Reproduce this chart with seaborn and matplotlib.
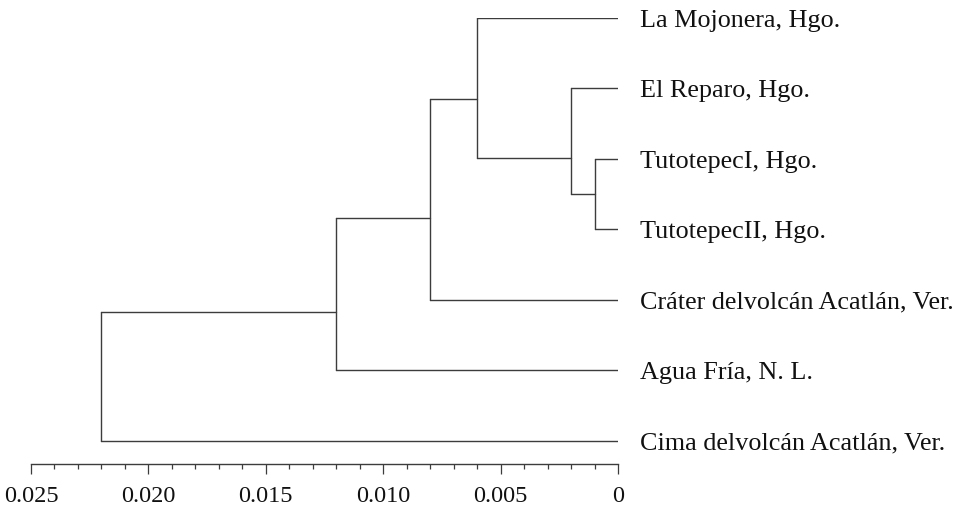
"""Dendrogram of populations, redrawn with seaborn + matplotlib."""

import matplotlib

matplotlib.use("Agg")
import matplotlib.pyplot as plt
import numpy as np
import pandas as pd
import seaborn as sns

# leaves, top to bottom
leaf_labels = [
    "La Mojonera, Hgo.",
    "El Reparo, Hgo.",
    "TutotepecI, Hgo.",
    "TutotepecII, Hgo.",
    "Cráter delvolcán Acatlán, Ver.",
    "Agua Fría, N. L.",
    "Cima delvolcán Acatlán, Ver.",
]

# merges: node ids 0..6 are leaves, 7.. are clusters in merge order
merge_left = [2, 1, 0, 9, 10, 11]
merge_right = [3, 7, 8, 4, 5, 6]
merge_height = [0.001, 0.002, 0.006, 0.008, 0.012, 0.022]

tick_values = [0.025, 0.020, 0.015, 0.010, 0.005, 0.0]
tick_labels = ["0.025", "0.020", "0.015", "0.010", "0.005", "0"]

# where the link sits between the two children (0 = upper child, 1 = lower child)
LINK_BIAS = [0.5, 0.66, 0.58, 0.59, 0.62, 0.5]

LINE_COLOR = "#3c3c3c"
TEXT_COLOR = "#111111"
SERIF = ["Liberation Serif", "DejaVu Serif"]
LEAF_SIZE = 18.8


def build_segments():
    n = len(leaf_labels)
    ypos = {i: float(i) for i in range(n)}
    height = {i: 0.0 for i in range(n)}
    rows = []
    seg = 0
    for k, (a, b, h) in enumerate(zip(merge_left, merge_right, merge_height)):
        node = n + k
        ypos[node] = ypos[a] + LINK_BIAS[k] * (ypos[b] - ypos[a])
        height[node] = h
        # vertical bar
        rows += [(seg, h, ypos[a]), (seg, h, ypos[b])]
        seg += 1
        # horizontal arms to the children
        for c in (a, b):
            rows += [(seg, h, ypos[c]), (seg, height[c], ypos[c])]
            seg += 1
    return pd.DataFrame(rows, columns=["seg", "dist", "y"]), ypos


def main():
    sns.set_theme(style="white")
    plt.rcParams["font.family"] = SERIF

    df, ypos = build_segments()

    fig = plt.figure(figsize=(9.59, 5.15), dpi=100)
    ax = fig.add_axes([31 / 959, 1 - 464 / 515, (618 - 31) / 959, (464 - 18) / 515])

    sns.lineplot(
        data=df, x="dist", y="y", units="seg", estimator=None, sort=False,
        color=LINE_COLOR, linewidth=1.0, ax=ax, legend=False,
    )

    # baseline dropped by half the cap height so the caps sit on the branch
    drop = 0.662 * LEAF_SIZE / 2
    for i, name in enumerate(leaf_labels):
        ax.annotate(
            name, xy=(0, i), xytext=(15.5, -drop), textcoords="offset points",
            ha="left", va="baseline", fontsize=LEAF_SIZE, color=TEXT_COLOR,
            family=SERIF, annotation_clip=False,
        )

    ax.set_xlim(0.025, 0.0)
    ax.set_ylim(len(leaf_labels) - 1 + 0.327, 0)
    ax.set_xlabel("")
    ax.set_ylabel("")
    ax.set_yticks([])

    ax.set_xticks(tick_values)
    ax.set_xticklabels(tick_labels, fontsize=17.5, color=TEXT_COLOR)
    ax.set_xticks(np.arange(0, 0.0251, 0.001), minor=True)
    ax.tick_params(axis="x", which="major", direction="out", length=7.5,
                   width=0.9, color=LINE_COLOR, pad=8.5, bottom=True)
    ax.tick_params(axis="x", which="minor", direction="out", length=3.5,
                   width=0.9, color=LINE_COLOR, bottom=True)

    for side in ("top", "right", "left"):
        ax.spines[side].set_visible(False)
    ax.spines["bottom"].set_color(LINE_COLOR)
    ax.spines["bottom"].set_linewidth(1.0)
    ax.set_facecolor("white")
    fig.patch.set_facecolor("white")

    fig.savefig("out.png", dpi=100, facecolor="white")
    plt.close(fig)


if __name__ == "__main__":
    main()
